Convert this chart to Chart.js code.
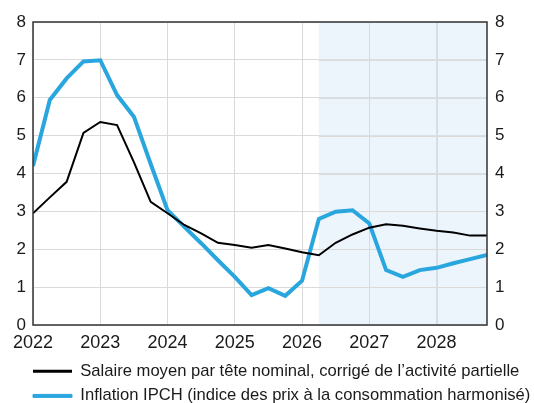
<!DOCTYPE html>
<html>
<head>
<meta charset="utf-8">
<script src="https://cdn.jsdelivr.net/npm/chart.js@4"></script>
<style>
  html, body { margin: 0; padding: 0; background: #fff; }
  #wrap { width: 534px; height: 403px; }
</style>
</head>
<body>
<div id="wrap"><canvas id="myChart" width="534" height="403"></canvas></div>
<script>
// quarterly points, 2022 T1 -> 2028 T4
const quarters = [2022, 2022.25, 2022.5, 2022.75, 2023, 2023.25, 2023.5, 2023.75,
                  2024, 2024.25, 2024.5, 2024.75, 2025, 2025.25, 2025.5, 2025.75,
                  2026, 2026.25, 2026.5, 2026.75, 2027, 2027.25, 2027.5, 2027.75,
                  2028, 2028.25, 2028.5, 2028.75];
const salaire = [2.95, 3.37, 3.78, 5.07, 5.36, 5.28, 4.3, 3.25,
                 2.95, 2.64, 2.42, 2.17, 2.11, 2.04, 2.11, 2.02,
                 1.92, 1.84, 2.17, 2.39, 2.57, 2.66, 2.62, 2.55,
                 2.49, 2.44, 2.36, 2.36];
const ipch = [4.2, 5.94, 6.51, 6.96, 6.99, 6.07, 5.5, 4.25,
              3.03, 2.59, 2.16, 1.71, 1.27, 0.79, 0.97, 0.77,
              1.17, 2.8, 2.99, 3.03, 2.68, 1.45, 1.27, 1.45,
              1.51, 1.63, 1.74, 1.85];
const yearTicks = [2022, 2023, 2024, 2025, 2026, 2027, 2028];
const projectionStart = 2026.25;
const labels = [
  'Salaire moyen par tête nominal, corrigé de l\u2019activité partielle',
  'Inflation IPCH (indice des prix à la consommation harmonisé)'
];
const legendStroke = [0, 1];

const toPoints = vals => vals.map((v, i) => ({x: quarters[i], y: v}));

// shaded projection area + frame, legend offset
const areaPlugin = {
  id: 'areaPlugin',
  afterLayout(chart) {
    chart.legend.left += 25;
    chart.legend.top += 5;
  },
  beforeDatasetsDraw(chart) {
    const {ctx, chartArea, scales} = chart;
    const x0 = scales.x.getPixelForValue(projectionStart);
    ctx.save();
    ctx.fillStyle = 'rgba(214,232,248,0.45)';
    ctx.fillRect(x0, chartArea.top, chartArea.right - x0, chartArea.bottom - chartArea.top);
    // redraw grid over the shade
    ctx.strokeStyle = '#dadada';
    ctx.lineWidth = 1;
    yearTicks.forEach(t => {
      const px = Math.round(scales.x.getPixelForValue(t)) + 0.5;
      if (px > x0) {
        ctx.beginPath(); ctx.moveTo(px, chartArea.top); ctx.lineTo(px, chartArea.bottom); ctx.stroke();
      }
    });
    for (let v = 1; v < 8; v++) {
      const py = Math.round(scales.y.getPixelForValue(v)) + 0.5;
      ctx.beginPath(); ctx.moveTo(x0, py); ctx.lineTo(chartArea.right, py); ctx.stroke();
    }
    ctx.restore();
  },
  afterDraw(chart) {
    const {ctx, chartArea} = chart;
    ctx.save();
    ctx.strokeStyle = '#333';
    ctx.lineWidth = 1.5;
    ctx.strokeRect(chartArea.left, chartArea.top, chartArea.right - chartArea.left, chartArea.bottom - chartArea.top);
    ctx.restore();
  }
};

Chart.defaults.font.family = '"Liberation Sans", Arial, sans-serif';
Chart.defaults.color = '#1a1a1a';

const ctx = document.getElementById('myChart').getContext('2d');
const myChart = new Chart(ctx, {
  type: 'line',
  data: {
    datasets: [{
      label: labels[0],
      data: toPoints(salaire),
      borderColor: '#000000',
      backgroundColor: '#000000',
      borderWidth: 2,
      pointRadius: 0,
      tension: 0
    }, {
      label: labels[1],
      data: toPoints(ipch),
      borderColor: '#2aa6df',
      backgroundColor: '#2aa6df',
      borderWidth: 4,
      pointRadius: 0,
      tension: 0
    }]
  },
  options: {
    responsive: false,
    animation: false,
    layout: { padding: { top: 22, left: 0, right: 0, bottom: 0 } },
    plugins: {
      legend: {
        position: 'bottom',
        align: 'start',
        maxHeight: 53,
        labels: {
          boxWidth: 39,
          boxHeight: 3,
          padding: 8,
          font: { size: 16.6 },
          color: '#1a1a1a',
          generateLabels: chart => {
            const items = Chart.defaults.plugins.legend.labels.generateLabels(chart);
            items.forEach((it, i) => { it.lineWidth = legendStroke[i]; });
            return items;
          }
        }
      },
      tooltip: { enabled: false }
    },
    scales: {
      x: {
        type: 'linear',
        min: 2022,
        max: 2028.75,
        afterBuildTicks: axis => { axis.ticks = yearTicks.map(v => ({value: v})); },
        ticks: { font: { size: 18 }, padding: 7, callback: v => String(v) },
        grid: { color: '#dadada', drawTicks: false },
        border: { display: false },
        afterFit: s => { s.height = 25; }
      },
      y: {
        position: 'left',
        min: 0, max: 8,
        ticks: { stepSize: 1, font: { size: 17 }, padding: 7 },
        grid: { color: '#dadada', drawTicks: false },
        border: { display: false },
        afterFit: s => { s.width = 33; }
      },
      y2: {
        position: 'right',
        min: 0, max: 8,
        ticks: { stepSize: 1, font: { size: 17 }, padding: 8 },
        grid: { display: false, drawTicks: false },
        border: { display: false },
        afterFit: s => { s.width = 47; }
      }
    }
  },
  plugins: [areaPlugin]
});
</script>
</body>
</html>
